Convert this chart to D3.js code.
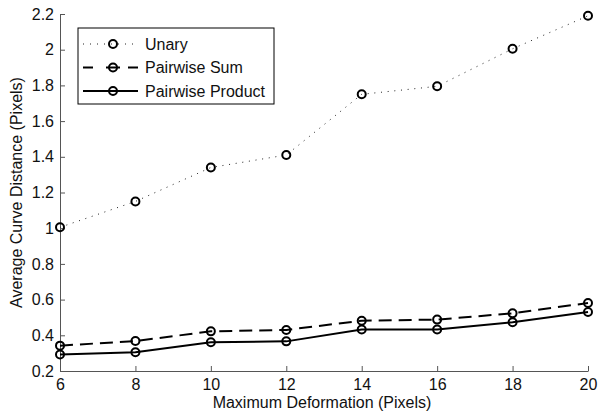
<!DOCTYPE html>
<html>
<head>
<meta charset="utf-8">
<script src="https://cdn.jsdelivr.net/npm/d3@7"></script>
<style>
  body { margin: 0; background: #fff; }
  text { font-family: "Liberation Sans", Arial, sans-serif; }
</style>
</head>
<body>
<div id="chart"></div>
<script>
const xValues = [6, 8, 10, 12, 14, 16, 18, 20];
const unary = [1.005, 1.15, 1.34, 1.41, 1.75, 1.795, 2.005, 2.19];
const pairwiseSum = [0.342, 0.368, 0.422, 0.43, 0.482, 0.488, 0.523, 0.581];
const pairwiseProduct = [0.292, 0.305, 0.361, 0.366, 0.432, 0.432, 0.473, 0.531];
const yTicks = [0.2, 0.4, 0.6, 0.8, 1, 1.2, 1.4, 1.6, 1.8, 2, 2.2];
const seriesNames = ["Unary", "Pairwise Sum", "Pairwise Product"];

const WIDTH = 600, HEIGHT = 413;
const margin = { left: 60, right: 12, top: 14, bottom: 42 };

const styles = [
  { dash: "1,5.7", legendDash: "1,6", width: 1, color: "#222" },
  { dash: "13,7", legendDash: "10,13,14,8", width: 2, color: "#000" },
  { dash: null, legendDash: null, width: 2, color: "#000" }
];

window.onload = function() {
  let svg = d3.select("#chart").append("svg")
    .attr("width", WIDTH).attr("height", HEIGHT);

  let x = d3.scaleLinear().domain([6, 20]).range([margin.left, WIDTH - margin.right]);
  let y = d3.scaleLinear().domain([0.2, 2.2]).range([HEIGHT - margin.bottom, margin.top]);

  // axes, ticks pointing inward
  let xAxis = svg.append("g")
    .attr("transform", "translate(0," + y(0.2) + ")")
    .call(d3.axisBottom(x).tickValues(xValues).tickSizeInner(-5).tickSizeOuter(0).tickPadding(8));
  let yAxis = svg.append("g")
    .attr("transform", "translate(" + x(6) + ",0)")
    .call(d3.axisLeft(y).tickValues(yTicks).tickSizeInner(-5).tickSizeOuter(0).tickPadding(6)
      .tickFormat(d3.format("~g")));

  [xAxis, yAxis].forEach(function(a) {
    a.select(".domain").attr("stroke", "#555");
    a.selectAll(".tick line").attr("stroke", "#555");
    a.selectAll(".tick text").attr("fill", "#111").style("font-size", "16px");
  });

  svg.append("text")
    .attr("x", (x(6) + x(20)) / 2 - 2).attr("y", HEIGHT - 5)
    .attr("text-anchor", "middle").style("font-size", "16px").attr("fill", "#111")
    .text("Maximum Deformation (Pixels)");

  svg.append("text")
    .attr("transform", "translate(22," + (y(0.2) + y(2.2)) / 2 + ") rotate(-90)")
    .attr("text-anchor", "middle").style("font-size", "16px").attr("fill", "#111")
    .text("Average Curve Distance (Pixels)");

  let data = [unary, pairwiseSum, pairwiseProduct];
  let line = d3.line().x(function(d, i) { return x(xValues[i]); }).y(function(d) { return y(d); });

  data.forEach(function(series, k) {
    let s = styles[k];
    svg.append("path")
      .datum(series)
      .attr("fill", "none")
      .attr("stroke", s.color)
      .attr("stroke-width", s.width)
      .attr("stroke-dasharray", s.dash)
      .attr("d", line);
    svg.selectAll(".m" + k)
      .data(series)
      .enter()
      .append("circle")
      .attr("cx", function(d, i) { return x(xValues[i]); })
      .attr("cy", function(d) { return y(d); })
      .attr("r", 4)
      .attr("fill", "none")
      .attr("stroke", "#000")
      .attr("stroke-width", 2);
  });

  // legend
  let legend = svg.append("g").attr("transform", "translate(78,28)");
  legend.append("rect")
    .attr("width", 196).attr("height", 76)
    .attr("fill", "#fff").attr("stroke", "#000").attr("stroke-width", 1);

  seriesNames.forEach(function(name, k) {
    let s = styles[k];
    let ly = 16 + k * 23.5;
    legend.append("line")
      .attr("x1", 5).attr("x2", 60).attr("y1", ly).attr("y2", ly)
      .attr("stroke", s.color).attr("stroke-width", s.width)
      .attr("stroke-dasharray", s.legendDash);
    legend.append("circle")
      .attr("cx", 35).attr("cy", ly).attr("r", 4)
      .attr("fill", "none").attr("stroke", "#000").attr("stroke-width", 2);
    legend.append("text")
      .attr("x", 67).attr("y", ly).attr("dy", "0.35em")
      .style("font-size", "16px").attr("fill", "#111")
      .text(name);
  });
};
</script>
</body>
</html>
